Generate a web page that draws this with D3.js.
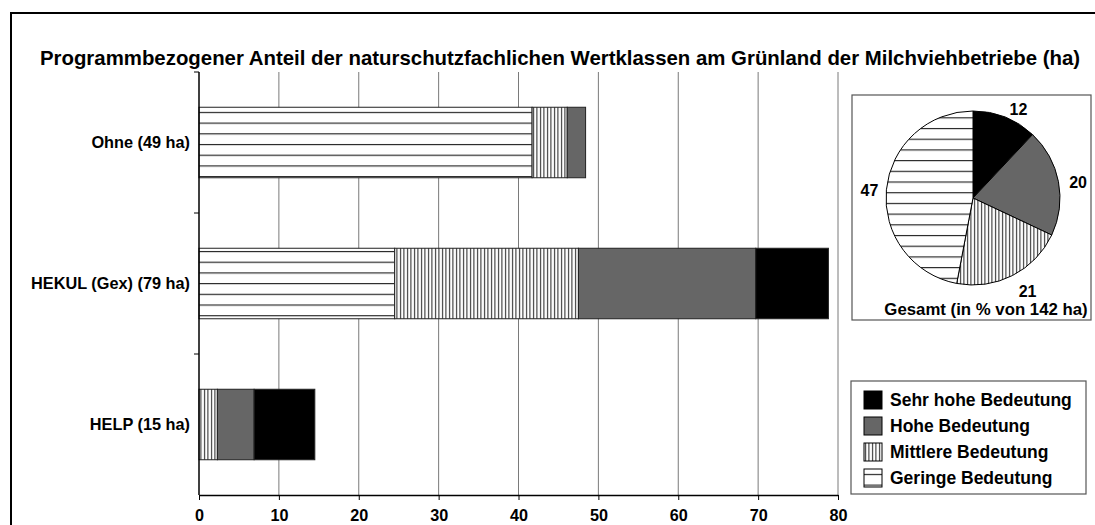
<!DOCTYPE html>
<html><head><meta charset="utf-8">
<script src="https://cdn.jsdelivr.net/npm/d3@7"></script>
<style>
html,body{margin:0;padding:0;background:#fff;}
text{font-family:"Liberation Sans",Arial,Helvetica,sans-serif;font-weight:bold;fill:#000;}
</style></head>
<body>
<svg id="chart" width="1095" height="525"></svg>
<script>
// ---- data ----
const title = "Programmbezogener Anteil der naturschutzfachlichen Wertklassen am Grünland der Milchviehbetriebe (ha)";
const categories = ["Ohne (49 ha)", "HEKUL (Gex) (79 ha)", "HELP (15 ha)"];
const classNames = ["Geringe Bedeutung", "Mittlere Bedeutung", "Hohe Bedeutung", "Sehr hohe Bedeutung"];
const geringe   = [41.7, 24.5, 0];
const mittlere  = [4.4, 23.0, 2.3];
const hohe      = [2.3, 22.2, 4.6];
const sehrHohe  = [0, 9.1, 7.6];
const xTicks = [0, 10, 20, 30, 40, 50, 60, 70, 80];
const pieNames  = ["Sehr hohe Bedeutung", "Hohe Bedeutung", "Mittlere Bedeutung", "Geringe Bedeutung"];
const pieValues = [12, 20, 21, 47];
const pieCaption = "Gesamt (in % von 142 ha)";
const legendOrder = ["Sehr hohe Bedeutung", "Hohe Bedeutung", "Mittlere Bedeutung", "Geringe Bedeutung"];

const FONT = "'Liberation Sans',Arial,Helvetica,sans-serif";
const svg = d3.select("#chart");
const defs = svg.append("defs");

// patterns
const pH = defs.append("pattern").attr("id","pH").attr("patternUnits","userSpaceOnUse")
  .attr("width",10).attr("height",10.7);
pH.append("rect").attr("width",10).attr("height",10.7).attr("fill","#fff");
pH.append("line").attr("x1",0).attr("x2",10).attr("y1",5.5).attr("y2",5.5).attr("stroke","#000").attr("stroke-width",1);
const pV = defs.append("pattern").attr("id","pV").attr("patternUnits","userSpaceOnUse")
  .attr("width",3.5).attr("height",10);
pV.append("rect").attr("width",3.5).attr("height",10).attr("fill","#fff");
pV.append("line").attr("x1",1.5).attr("x2",1.5).attr("y1",0).attr("y2",10).attr("stroke","#000").attr("stroke-width",0.9);

const fills = {
  "Geringe Bedeutung":"url(#pH)",
  "Mittlere Bedeutung":"url(#pV)",
  "Hohe Bedeutung":"#666666",
  "Sehr hohe Bedeutung":"#000000"
};

// outer frame
svg.append("rect").attr("x",11).attr("y",13).attr("width",1100).attr("height",530)
  .attr("fill","none").attr("stroke","#000").attr("stroke-width",2);

// title
svg.append("text").attr("x",560).attr("y",65).attr("text-anchor","middle")
  .style("font-size","20.4px").text(title);

// scales
const x = d3.scaleLinear().domain([0,80]).range([199,838]);
const y = d3.scaleBand().domain(categories).range([72,495]).paddingInner(0.5).paddingOuter(0.25);

// gridlines
svg.append("g").selectAll("line").data(xTicks.slice(1)).join("line")
  .attr("x1",d=>x(d)).attr("x2",d=>x(d)).attr("y1",72).attr("y2",495)
  .attr("stroke","#7a7a7a").attr("stroke-width",1);

// bars
const seriesData = categories.map((c,i)=>({cat:c, Geringe:geringe[i], Mittlere:mittlere[i], Hohe:hohe[i], Sehr:sehrHohe[i]}));
const keys = ["Geringe","Mittlere","Hohe","Sehr"];
const stack = d3.stack().keys(keys)(seriesData);
svg.append("g").selectAll("g").data(stack).join("g")
  .attr("fill",(s,i)=>fills[classNames[i]])
  .selectAll("rect").data(s=>s).join("rect")
  .attr("x",d=>x(d[0])).attr("width",d=>x(d[1])-x(d[0]))
  .attr("y",d=>y(d.data.cat)).attr("height",y.bandwidth())
  .attr("stroke",d=>(d[1]-d[0])>0?"#222":"none").attr("stroke-width",1);

// x axis
const xAxis = svg.append("g").attr("transform","translate(0,495)")
  .call(d3.axisBottom(x).tickValues(xTicks).tickSize(5).tickSizeOuter(0).tickPadding(9));
xAxis.select(".domain").attr("stroke","#000").attr("stroke-width",1.5);
xAxis.selectAll(".tick line").attr("stroke","#000");
xAxis.selectAll("text").style("font-size","16.2px").style("font-family",FONT).style("font-weight","bold").attr("fill","#000");

// y axis
const yAxis = svg.append("g").attr("transform","translate(199,0)")
  .call(d3.axisLeft(y).tickSize(0).tickPadding(9));
yAxis.select(".domain").remove();
yAxis.append("line").attr("x1",0).attr("x2",0).attr("y1",72).attr("y2",495).attr("stroke","#000").attr("stroke-width",1.5);
const bounds = [72].concat(categories.map(c=>y(c)+y.bandwidth()+y.step()*0.25));
yAxis.selectAll(".bnd").data(bounds.slice(0,3)).join("line").attr("class","bnd")
  .attr("x1",-5).attr("x2",0).attr("y1",d=>d).attr("y2",d=>d).attr("stroke","#000");
yAxis.selectAll(".tick text").style("font-size","16.3px").style("font-family",FONT).style("font-weight","bold").attr("fill","#000");

// pie box
svg.append("rect").attr("x",852).attr("y",95).attr("width",239).attr("height",225)
  .attr("fill","#fff").attr("stroke","#555").attr("stroke-width",1.2);
const pieG = svg.append("g").attr("transform","translate(973,198)");
const pieData = d3.pie().sort(null)(pieValues);
const arc = d3.arc().innerRadius(0).outerRadius(87);
pieG.selectAll("path").data(pieData).join("path")
  .attr("d",arc).attr("fill",(d,i)=>fills[pieNames[i]])
  .attr("stroke","#000").attr("stroke-width",1);
const labelArc = d3.arc().innerRadius(107).outerRadius(107);
const labelNudge = [[6,11],[0,4],[6,-2],[3,2]];
pieG.selectAll("text.lbl").data(pieData).join("text").attr("class","lbl")
  .attr("transform",(d,i)=>{const c=labelArc.centroid(d);return `translate(${c[0]+labelNudge[i][0]},${c[1]+labelNudge[i][1]})`;})
  .attr("text-anchor","middle").attr("dy","0.35em").style("font-size","16px")
  .text((d,i)=>pieValues[i]);
svg.append("text").attr("x",986).attr("y",315).attr("text-anchor","middle")
  .style("font-size","16.8px").text(pieCaption);

// legend
svg.append("rect").attr("x",851).attr("y",381).attr("width",235).attr("height",113)
  .attr("fill","#fff").attr("stroke","#555").attr("stroke-width",1.2);
const lg = svg.append("g").attr("transform","translate(864,391)");
const li = lg.selectAll("g").data(legendOrder).join("g")
  .attr("transform",(d,i)=>`translate(0,${i*26})`);
li.append("rect").attr("width",18).attr("height",18).attr("fill",d=>fills[d]).attr("stroke","#000").attr("stroke-width",1);
li.append("text").attr("x",26).attr("y",9).attr("dy","0.36em").style("font-size","17.5px").text(d=>d);
</script>
</body></html>
